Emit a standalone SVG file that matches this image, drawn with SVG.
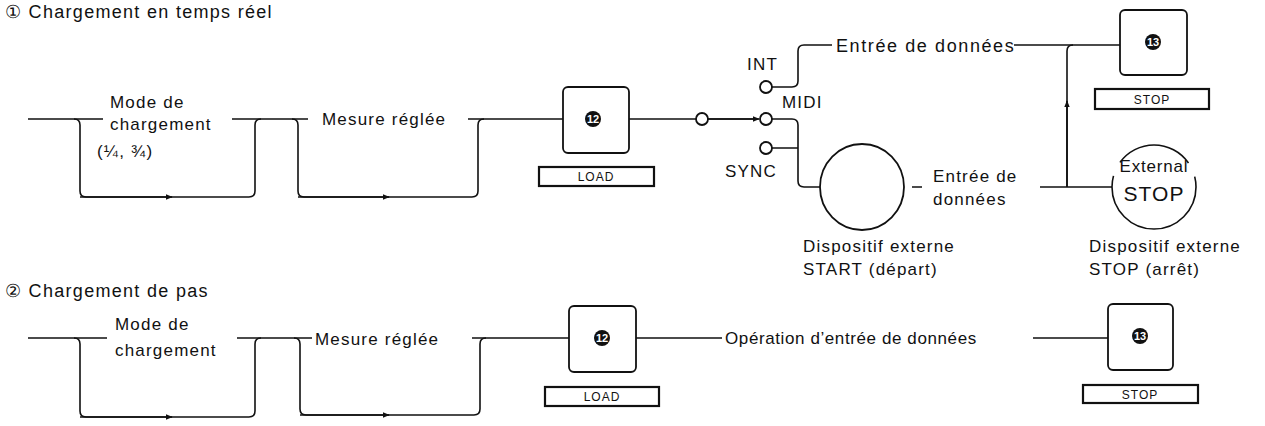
<svg xmlns="http://www.w3.org/2000/svg" width="1265" height="426" viewBox="0 0 1265 426">
<style>
text{font-family:"Liberation Sans",Arial,sans-serif;fill:#111}
.t{font-size:17px;letter-spacing:1.2px}
.h{font-size:18px;letter-spacing:1.3px}
.s{font-size:12px;letter-spacing:1px}
.n{font-size:11px;font-weight:bold;fill:#fff}
.l{fill:none;stroke:#111;stroke-width:1.6}
.b{fill:#fff;stroke:#111;stroke-width:1.8}
.lab{fill:#fff;stroke:#111;stroke-width:2.2}
</style>
<defs>
<marker id="a" viewBox="0 0 10 10" refX="9" refY="5" markerWidth="7" markerHeight="7" orient="auto" markerUnits="userSpaceOnUse"><path d="M0,1 L10,5 L0,9 z" fill="#111"/></marker>
</defs>
<rect width="1265" height="426" fill="#fff"/>
<text class="h" x="5" y="18">① Chargement en temps réel</text>
<text class="h" x="5" y="297">② Chargement de pas</text>

<g id="connectors">
<path class="l" d="M28,119 H103 M232,119 H308 M468,119 H563 M629,119 H696 M708,119 H755" />
<path class="l" d="M74,119 Q80,119 80,125 V191 Q80,197 86,197 H249 Q255,197 255,191 V125 Q255,119 261,119" />
<path class="l" d="M80,197 H172" marker-end="url(#a)"/>
<path class="l" d="M292,119 Q298,119 298,125 V191 Q298,197 304,197 H472 Q478,197 478,191 V125 Q478,119 484,119" />
<path class="l" d="M298,197 H389" marker-end="url(#a)"/>
<path class="l" d="M708,119 H759" marker-end="url(#a)"/>
<path class="l" d="M772,87 H792 Q798,87 798,81 V51 Q798,45 804,45 H832 M1014,45 H1120" />
<path class="l" d="M772,119 H792 Q798,119 798,125 V181 Q798,187 804,187 H820 M772,148 H798" />
<path class="l" d="M912,187 H922 M1040,187 H1112" />
<path class="l" d="M1067,187 V51 Q1067,45 1073,45" />
<path class="l" d="M1067,187 V101" marker-end="url(#a)"/>
<path class="l" d="M28,338 H107 M237,338 H312 M472,338 H569 M636,338 H722 M1033,338 H1108" />
<path class="l" d="M74,338 Q80,338 80,344 V411 Q80,417 86,417 H249 Q255,417 255,411 V344 Q255,338 261,338" />
<path class="l" d="M80,417 H172" marker-end="url(#a)"/>
<path class="l" d="M294,338 Q300,338 300,344 V409 Q300,415 306,415 H474 Q480,415 480,409 V344 Q480,338 486,338" />
<path class="l" d="M300,415 H389" marker-end="url(#a)"/>
</g>

<g id="mode1"><text class="t" x="110" y="108">Mode de</text><text class="t" x="110" y="130">chargement</text><text class="t" x="97" y="157">(¼, ¾)</text></g>
<g id="mesure1"><text class="t" x="322" y="125">Mesure réglée</text></g>
<g id="load1"><rect class="b" x="563" y="87" width="66" height="66" rx="5"/><circle cx="593" cy="119" r="8" fill="#111"/><text class="n" x="593" y="123" text-anchor="middle">12</text><rect class="lab" x="539" y="167" width="115" height="19"/><text class="s" x="596" y="181" text-anchor="middle">LOAD</text></g>
<g id="sw"><circle class="b" cx="702" cy="119" r="6"/><circle class="b" cx="766" cy="87" r="6"/><circle class="b" cx="766" cy="119" r="6"/><circle class="b" cx="766" cy="148" r="6"/>
<text class="t" x="747" y="70">INT</text><text class="t" x="782" y="108">MIDI</text><text class="t" x="725" y="177">SYNC</text></g>
<g id="data1"><text class="t" x="836" y="52" style="font-size:18px;letter-spacing:1.6px">Entrée de données</text></g>
<g id="start"><ellipse class="b" cx="862" cy="187" rx="42" ry="43"/><text class="t" x="803" y="252">Dispositif externe</text><text class="t" x="803" y="275">START (départ)</text></g>
<g id="data2"><text class="t" x="933" y="182">Entrée de</text><text class="t" x="933" y="205">données</text></g>
<g id="stop1"><rect class="b" x="1120" y="10" width="67" height="65" rx="5"/><circle cx="1153" cy="42" r="8" fill="#111"/><text class="n" x="1153" y="46" text-anchor="middle">13</text><rect class="lab" x="1095" y="89" width="114" height="20"/><text class="s" x="1152" y="104" text-anchor="middle">STOP</text></g>
<g id="extstop"><circle class="l" cx="1154" cy="187" r="42" stroke-dasharray="143 15 80 15 11"/><text class="t" x="1154" y="172" text-anchor="middle" style="letter-spacing:0.8px">External</text><text x="1154" y="201" text-anchor="middle" style="font-size:21px;letter-spacing:1px">STOP</text><text class="t" x="1089" y="252">Dispositif externe</text><text class="t" x="1089" y="275">STOP (arrêt)</text></g>

<g id="mode2"><text class="t" x="115" y="330">Mode de</text><text class="t" x="115" y="356">chargement</text></g>
<g id="mesure2"><text class="t" x="315" y="345">Mesure réglée</text></g>
<g id="load2"><rect class="b" x="569" y="306" width="67" height="66" rx="5"/><circle cx="602" cy="338" r="8" fill="#111"/><text class="n" x="602" y="342" text-anchor="middle">12</text><rect class="lab" x="545" y="387" width="114" height="19"/><text class="s" x="602" y="401" text-anchor="middle">LOAD</text></g>
<g id="op"><text class="t" x="725" y="344" style="letter-spacing:0.6px">Opération d’entrée de données</text></g>
<g id="stop2"><rect class="b" x="1108" y="304" width="65" height="66" rx="5"/><circle cx="1140" cy="336" r="8" fill="#111"/><text class="n" x="1140" y="340" text-anchor="middle">13</text><rect class="lab" x="1083" y="385" width="115" height="18"/><text class="s" x="1140" y="399" text-anchor="middle">STOP</text></g>
</svg>
